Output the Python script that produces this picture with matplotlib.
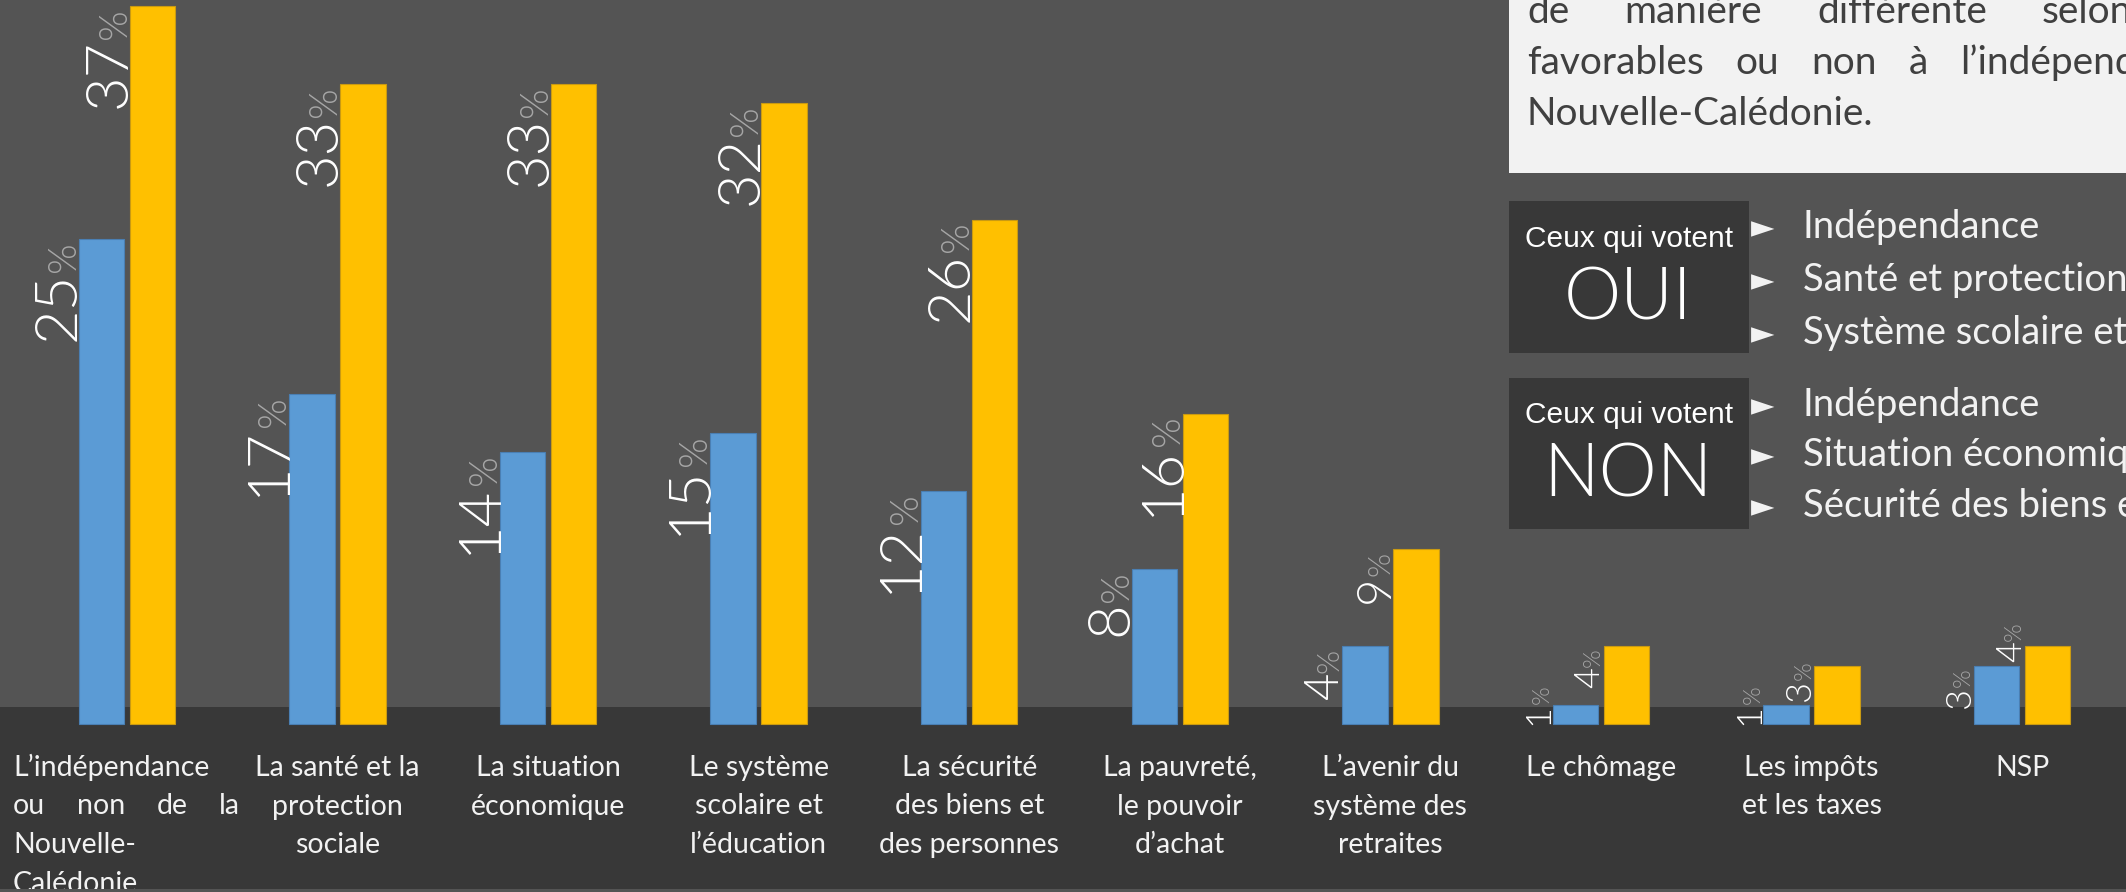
import matplotlib
matplotlib.use("Agg")
import matplotlib.pyplot as plt
from matplotlib.patches import Rectangle
import numpy as np

# ---------------- data ----------------
categories = [
    "L’indépendance\nou non de la\nNouvelle-\nCalédonie",
    "La santé et la\nprotection\nsociale",
    "La situation\néconomique",
    "Le système\nscolaire et\nl’éducation",
    "La sécurité\ndes biens et\ndes personnes",
    "La pauvreté,\nle pouvoir\nd’achat",
    "L’avenir du\nsystème des\nretraites",
    "Le chômage",
    "Les impôts\net les taxes",
    "NSP",
]
vote_oui = [25, 17, 14, 15, 12, 8, 4, 1, 1, 3]      # blue series
vote_non = [37, 33, 33, 32, 26, 16, 9, 4, 3, 4]     # yellow series

box_lines = [
    ["de", "manière", "différente", "selon"],
    ["favorables", "ou", "non", "à", "l’indépendance"],
    ["Nouvelle-Calédonie."],
]
oui_title = ("Ceux qui votent", "OUI")
non_title = ("Ceux qui votent", "NON")
oui_items = ["Indépendance", "Santé et protection sociale", "Système scolaire et éducation"]
non_items = ["Indépendance", "Situation économique", "Sécurité des biens et des personnes"]

# ---------------- layout / style ----------------
W, H = 2126, 892
PX_CAT = 210.6      # pixels per category
X0 = 126.8          # pixel centre of first category
BASE = 724          # pixel row of bar baseline
PX_PCT = 19.4       # pixels per percentage point

BG = "#545454"
BAND = "#383838"
BLUE = "#5B9BD5"
YELLOW = "#FFC000"
TXT = "#F2F2F2"
FONT = ["Lato", "DejaVu Sans"]

fig = plt.figure(figsize=(W / 100, H / 100), dpi=100)
fig.patch.set_facecolor(BG)
ax = fig.add_axes([0, 0, 1, 1])
ax.axis("off")
ax.set_xlim(-X0 / PX_CAT, (W - X0) / PX_CAT)
ax.set_ylim(-(H - BASE) / PX_PCT, BASE / PX_PCT)
r = fig.canvas.get_renderer()


def T(px, py, s, **kw):
    return ax.text(px / W, 1 - py / H, s, transform=ax.transAxes, **kw)


# dark band behind the category labels
ax.add_patch(Rectangle((0, 3 / H), 1, (889 - 707) / H, transform=ax.transAxes,
                       facecolor=BAND, edgecolor="none", zorder=0))

# ---------------- bars ----------------
x = np.arange(len(categories))
bw = 45.5 / PX_CAT
off = 25.5 / PX_CAT
ax.bar(x - off, vote_oui, bw, color=BLUE, edgecolor="#4A7FB3", linewidth=0.8, zorder=2)
ax.bar(x + off, vote_non, bw, color=YELLOW, edgecolor="#C99A12", linewidth=0.8, zorder=2)

# ---------------- data labels ----------------
lab_size = [43, 43, 43, 43, 43, 43, 34, 26, 26, 26]
gap_x = 4 / PX_CAT
for i in range(len(categories)):
    made = []
    for v, xc in ((vote_oui[i], x[i] - off), (vote_non[i], x[i] + off)):
        xb = xc - bw / 2 - gap_x
        kw = dict(rotation=90, rotation_mode="anchor", ha="right", va="baseline",
                  family=FONT, fontweight=300, zorder=3)
        tp = ax.text(xb, 0, "%", fontsize=lab_size[i] * 0.66, color="#A6A6A6", **kw)
        td = ax.text(xb, 0, str(v), fontsize=lab_size[i], color="white", **kw)
        lp = tp.get_window_extent(r).height / PX_PCT
        ld = td.get_window_extent(r).height / PX_PCT
        made.append((tp, td, lp, ld, xb))
    # blue label
    tp, td, lp, ld, xb = made[0]
    top = max(vote_oui[i], lp + ld + 1 / PX_PCT) - 2 / PX_PCT
    tp.set_position((xb, top))
    td.set_position((xb, top - lp))
    # yellow label (kept above the blue bar)
    tp, td, lp, ld, xb = made[1]
    top = max(vote_non[i], vote_oui[i] + 6 / PX_PCT + lp + ld) - 2 / PX_PCT
    tp.set_position((xb, top))
    td.set_position((xb, top - lp))

# ---------------- category labels ----------------
LINE_PX = 38.5
FIRST_BASE = 776
XL_SIZE = 20.5


def place_words(words, x_left, py, gap=None, x_right=None, **kw):
    ts = [T(0, py, w, ha="left", va="baseline", **kw) for w in words]
    widths = [t.get_window_extent(r).width for t in ts]
    if gap is None:
        gap = 0 if len(words) < 2 else (x_right - x_left - sum(widths)) / (len(words) - 1)
    xx = x_left
    for t, wd in zip(ts, widths):
        t.set_position((xx / W, 1 - py / H))
        xx += wd + gap


for i, lab in enumerate(categories):
    lines = lab.split("\n")
    cx = X0 + i * PX_CAT
    for k, line in enumerate(lines):
        py = FIRST_BASE + k * LINE_PX
        if i == 0:
            words = line.split(" ")
            if k < len(lines) - 1 and len(words) > 1:
                place_words(words, 13, py, x_right=240, fontsize=XL_SIZE, color=TXT,
                            family=FONT, zorder=3)
            else:
                T(13, py, line, ha="left", va="baseline", fontsize=XL_SIZE, color=TXT,
                  family=FONT, zorder=3)
        else:
            T(cx, py, line, ha="center", va="baseline", fontsize=XL_SIZE, color=TXT,
              family=FONT, zorder=3)

# thin bottom strip
ax.add_patch(Rectangle((0, 0), 1, 3 / H, transform=ax.transAxes,
                       facecolor=BG, edgecolor="none", zorder=5))

# ---------------- text box (top right) ----------------
ax.add_patch(Rectangle((1509 / W, 1 - 173 / H), 1, 173 / H, transform=ax.transAxes,
                       facecolor="#F2F2F2", edgecolor="none", zorder=1))
box_base = [23, 74, 125]
box_gap = [55, 32, 0]
for words, py, g in zip(box_lines, box_base, box_gap):
    place_words(words, 1527, py, gap=g, fontsize=28, color="#404040", family=FONT, zorder=2)

# ---------------- OUI / NON boxes ----------------
for (small, big), items, y0, y1, base_small, base_big, bases, bsize in (
        (oui_title, oui_items, 201, 353, 247, 319, [238, 291, 344], 52),
        (non_title, non_items, 378, 529, 423, 496, [416, 466, 517], 53)):
    ax.add_patch(Rectangle((1509 / W, 1 - y1 / H), 240 / W, (y1 - y0) / H,
                           transform=ax.transAxes, facecolor=BAND, edgecolor="none", zorder=1))
    T(1629, base_small, small, ha="center", va="baseline", fontsize=21.5,
      family=["Liberation Sans", "DejaVu Sans"], color="white", zorder=2)
    T(1628, base_big, big, ha="center", va="baseline", fontsize=bsize,
      family=FONT, fontweight=300, color="white", zorder=2)
    for it, py in zip(items, bases):
        T(1751, py - 1, "►", ha="left", va="baseline", fontsize=22,
          family=["DejaVu Sans"], color=TXT, zorder=2)
        T(1803, py, it, ha="left", va="baseline", fontsize=27.5,
          family=FONT, color=TXT, zorder=2)

fig.savefig("out.png", dpi=100, facecolor=BG)
